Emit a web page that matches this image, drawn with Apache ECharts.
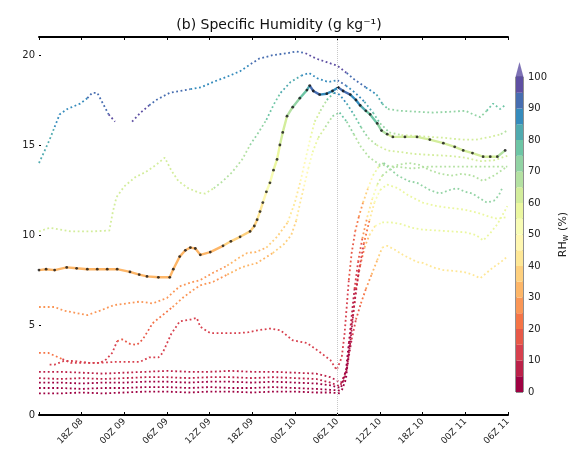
<!DOCTYPE html>
<html><head><meta charset="utf-8">
<script src="https://cdn.jsdelivr.net/npm/echarts@6/dist/echarts.min.js"></script>
<style>html,body{margin:0;padding:0;background:#fff}#c{width:578px;height:459px}</style>
</head><body><div id="c"></div>
<script>
// ---- data: each point = [hours since 12Z 08, specific humidity g/kg, RH %]
const TICK_LABELS = ['', '18Z 08', '00Z 09', '06Z 09', '12Z 09', '18Z 09', '00Z 10', '06Z 10', '12Z 10', '18Z 10', '00Z 11', '06Z 11'];
const Y_TICKS = [0, 5, 10, 15, 20];
const CB_LEVELS = [0,5,10,15,20,25,30,35,40,45,50,55,60,65,70,75,80,85,90,95,100];
const CB_LABELS = [0,10,20,30,40,50,60,70,80,90,100];
const VLINE_HOUR = 42;

const CURVE_A = [[0,14.0,82],[0.7,14.6,82],[1.5,15.3,82],[2.2,16.0,86],[2.9,16.7,86],[4.0,17.0,86],[5.8,17.3,86],[6.8,17.6,90],[7.5,17.9,90],[8.2,17.9,90],[9.0,17.3,92],[9.8,16.7,96],[10.7,16.3,96], null,
 [13.1,16.3,96],[14.3,16.8,96],[15.5,17.2,92],[16.5,17.5,92],[18.4,17.9,90],[21.3,18.1,88],[22.8,18.2,88],[24.5,18.5,88],[26.5,18.8,88],[28.3,19.1,88],[29.8,19.5,90],[31.0,19.8,90],[33.0,20.0,90],[35.0,20.1,92],[36.2,20.2,92],[37.5,20.1,96],[39.0,19.8,98],[40.5,19.6,98],[42.0,19.4,96],[43.3,19.0,92],[44.5,18.6,90],[46.0,18.2,86],[47.5,17.8,82],[48.3,17.3,78],[49.1,17.0,74],[50.8,16.9,72],[53.0,16.85,72],[55.5,16.8,72],[58.0,16.85,72],[60.0,16.9,72],[61.1,16.7,72],[62.1,16.55,72],[63.0,16.9,76],[63.9,17.3,76],[64.9,17.0,76],[65.7,17.25,76]];
const CURVE_B = [[0,10.2,62],[1.5,10.4,62],[3.0,10.3,62],[4.5,10.2,62],[7.5,10.2,62],[9.9,10.25,62],[10.4,11.3,62],[10.9,12.1,62],[12.0,12.7,62],[13.5,13.2,62],[15.0,13.5,62],[16.5,13.9,62],[17.7,14.3,62],[18.6,13.6,62],[19.6,13.0,62],[21.0,12.6,62],[22.5,12.35,62],[23.4,12.3,62],[24.6,12.6,66],[25.9,13.0,66],[27.2,13.5,66],[28.6,14.2,68],[29.7,15.0,72],[30.9,15.7,72],[32.0,16.4,76],[33.1,17.3,76],[34.0,17.9,82],[35.4,18.5,82],[36.9,18.85,86],[38.0,19.0,86],[39.2,18.7,86],[40.7,18.5,86],[42.0,18.6,90],[43.2,18.3,86],[44.5,17.9,86],[45.8,17.4,82],[47.0,16.8,76],[48.0,16.2,72],[49.3,15.7,66],[51.0,15.55,62],[53.0,15.5,62],[55.0,15.45,62],[57.0,15.4,62],[59.5,15.3,62],[61.5,15.3,62],[63.5,15.45,62],[65.0,15.6,66],[65.9,15.8,66]];
const CURVE_MAIN = [[0,8.05,32],[1.0,8.1,32],[2.2,8.05,32],[3.9,8.2,32],[5.3,8.15,32],[6.8,8.1,32],[8.2,8.1,32],[9.6,8.1,32],[11.0,8.1,32],[12.8,7.95,32],[14.1,7.8,32],[15.2,7.7,32],[16.8,7.65,32],[18.4,7.65,32],[18.9,8.1,32],[19.8,8.8,32],[20.6,9.15,32],[21.3,9.3,32],[22.0,9.25,32],[22.7,8.9,32],[24.1,9.05,32],[25.9,9.4,36],[27.0,9.65,36],[28.3,9.9,36],[29.7,10.2,38],[30.3,10.5,38],[30.7,10.85,42],[31.1,11.3,42],[31.5,11.8,46],[32.0,12.4,52],[32.5,12.9,52],[33.0,13.6,56],[33.5,14.2,56],[33.9,15.0,62],[34.3,15.7,62],[34.9,16.6,66],[35.7,17.1,72],[36.7,17.6,76],[37.7,18.05,82],[38.1,18.3,90],[38.6,18.0,90],[39.5,17.8,86],[40.5,17.85,86],[41.3,18.0,86],[42.1,18.2,90],[42.8,18.0,90],[43.8,17.8,86],[44.6,17.5,86],[45.2,17.2,82],[46.0,16.9,76],[46.6,16.7,76],[47.6,16.2,72],[48.2,15.8,66],[49.0,15.6,62],[49.8,15.45,62],[51.5,15.45,62],[53.2,15.45,62],[55.0,15.3,62],[56.9,15.1,62],[58.5,14.9,62],[59.7,14.7,62],[61.0,14.55,62],[62.5,14.35,62],[63.5,14.35,62],[64.5,14.35,66],[65.6,14.7,66]];
const CURVE_C = [[0,6.0,27],[1.2,6.0,27],[2.2,6.0,27],[3.5,5.8,27],[4.8,5.7,27],[6.8,5.55,27],[8.6,5.8,27],[10.5,6.1,27],[12.4,6.2,27],[14.2,6.3,27],[16.0,6.2,27],[18.0,6.5,27],[19.8,7.15,27],[21.3,7.35,27],[22.7,7.5,27],[24.5,7.9,27],[26.5,8.3,32],[28.0,8.7,32],[29.3,9.0,32],[30.5,9.05,32],[32.0,9.3,36],[33.5,9.9,36],[35.0,10.7,42],[36.0,11.8,42],[36.8,13.0,46],[37.5,14.2,52],[38.2,15.4,56],[38.8,16.3,62],[39.6,16.9,66],[40.5,17.5,76],[41.5,17.9,86],[42.3,17.8,86],[43.3,17.3,82],[44.3,16.7,76],[45.3,16.0,72],[46.3,15.4,66],[47.5,15.0,62],[49.0,14.7,62],[51.0,14.6,62],[53.0,14.5,62],[55.0,14.45,62],[57.5,14.4,62],[60.0,14.3,62],[62.0,14.1,62],[64.0,14.15,62],[65.9,14.4,62]];
const CURVE_D = [[0,3.45,22],[1.3,3.45,22],[3.3,3.1,12],[4.5,2.9,12],[6.5,2.9,12],[8.6,2.9,12],[9.5,3.1,12],[10.3,3.45,12],[11.0,4.1,17],[11.7,4.2,17],[12.8,3.95,17],[13.8,3.9,17],[14.6,4.2,17],[16.0,5.1,22],[17.4,5.55,22],[18.8,6.0,27],[20.2,6.5,27],[21.7,6.95,27],[22.7,7.2,27],[24.5,7.4,27],[26.5,7.8,32],[28.5,8.2,32],[30.7,8.45,32],[32.9,9.0,36],[34.5,9.5,36],[35.5,10.0,38],[36.2,10.8,42],[36.7,11.7,42],[37.3,12.7,46],[37.9,13.7,52],[38.5,14.6,56],[39.3,15.4,62],[40.3,16.0,66],[41.3,16.6,72],[42.3,16.8,76],[43.3,16.3,72],[44.3,15.6,66],[45.3,14.9,66],[46.5,14.3,66],[48.0,13.9,66],[50.0,13.8,66],[52.5,13.7,66],[55.0,13.8,66],[57.5,13.8,66],[60.0,13.8,66],[62.5,13.8,66],[64.5,13.8,66],[65.9,13.8,66]];
const CURVE_E = [[1.5,2.8,12],[2.2,2.8,12],[3.5,3.0,12],[5.0,3.0,12],[7.0,2.9,12],[8.6,2.9,12],[10.7,2.95,12],[12.5,2.95,12],[14.2,2.95,12],[15.5,3.2,12],[16.8,3.2,12],[17.4,3.45,12],[18.6,4.5,12],[19.8,5.2,12],[21.3,5.3,12],[22.2,5.4,12],[22.7,4.9,12],[24.1,4.55,12],[26.0,4.55,12],[28.0,4.55,12],[29.5,4.6,12],[30.7,4.7,12],[32.5,4.8,12],[34.0,4.7,12],[35.7,4.15,12],[37.7,4.0,12],[39.5,3.5,12],[41.0,3.05,12],[41.9,2.5,12],[42.6,3.2,12],[43.0,4.5,12],[43.3,6.0,12],[43.6,7.5,17],[44.0,9.0,17],[44.5,10.2,22],[45.0,11.0,27],[45.6,11.8,36],[46.3,12.6,46],[47.0,13.3,56],[47.8,13.8,66],[48.5,14.0,72],[49.3,13.7,72],[50.5,13.3,72],[52.0,13.0,72],[53.2,12.9,72],[55.0,12.5,72],[56.4,12.3,72],[57.8,12.5,72],[58.8,12.6,72],[60.0,12.4,72],[61.0,12.3,72],[62.2,12.0,72],[63.0,11.8,72],[64.0,11.9,72],[64.7,12.2,72],[65.3,12.7,72]];
const CURVE_F = [[0,2.4,7],[3,2.4,7],[6,2.35,7],[9,2.3,7],[12,2.35,7],[15,2.4,7],[18,2.45,7],[21,2.4,7],[24,2.4,7],[27,2.45,7],[30,2.4,7],[33,2.4,7],[36,2.35,7],[39,2.3,7],[41,2.1,7],[42.5,1.8,7],[43.3,2.5,7],[43.8,4.0,7],[44.2,5.5,12],[44.6,7.0,17],[45.2,8.3,22],[45.8,9.3,32],[46.5,10.0,42],[47.3,10.5,52],[48.3,10.7,56],[49.5,10.7,56],[51.0,10.6,56],[52.5,10.4,56],[54.0,10.3,56],[56.0,10.25,56],[58.0,10.2,56],[60.0,10.15,56],[61.5,10.0,56],[62.5,9.7,56],[63.5,10.1,56],[64.5,10.6,56],[65.5,11.3,56],[65.9,11.6,56]];
const CURVE_G = [[0,2.05,7],[3,2.0,7],[6,2.05,7],[9,2.0,7],[12,2.05,7],[15,2.1,7],[18,2.1,7],[21,2.05,7],[24,2.1,7],[27,2.1,7],[30,2.05,7],[33,2.1,7],[36,2.05,7],[39,2.0,7],[41,1.8,7],[42.3,1.6,7],[43.0,2.0,7],[43.5,3.0,7],[44.0,4.2,12],[44.6,5.3,17],[45.3,6.2,22],[46.0,7.0,27],[46.8,7.8,32],[47.6,8.6,36],[48.3,9.3,42],[49.0,9.4,42],[50.0,9.2,42],[51.2,8.9,42],[52.2,8.7,42],[53.2,8.5,42],[54.0,8.45,42],[55.5,8.2,42],[56.9,8.05,42],[58.5,8.0,42],[59.7,7.95,42],[61.0,7.8,42],[62.1,7.6,42],[63.0,7.9,42],[63.9,8.2,42],[65.0,8.5,42],[65.9,8.8,42]];
const CURVE_H = [[0,1.8,3],[3,1.8,3],[6,1.75,3],[9,1.8,3],[12,1.8,3],[15,1.85,3],[18,1.85,3],[21,1.8,3],[24,1.85,3],[27,1.85,3],[30,1.8,3],[33,1.85,3],[36,1.8,3],[39,1.75,3],[41,1.65,3],[42.5,1.5,3],[43.2,2.5,3],[43.6,4.0,7],[44.0,5.5,7],[44.4,7.0,12],[44.9,8.5,17],[45.5,9.8,27],[46.2,11.0,42],[46.9,12.0,52],[47.6,12.8,62],[48.3,13.3,66],[49.2,13.6,66],[50.5,13.9,66],[52.0,14.0,66],[53.5,13.9,66],[55.0,13.6,66],[56.5,13.4,66],[58.0,13.3,66],[59.5,13.4,66],[61.0,13.3,66],[62.5,13.0,66],[64.0,13.3,66],[65.9,13.8,66]];
const CURVE_I = [[0,1.5,3],[3,1.5,3],[6,1.45,3],[9,1.5,3],[12,1.5,3],[15,1.55,3],[18,1.55,3],[21,1.5,3],[24,1.55,3],[27,1.5,3],[30,1.5,3],[33,1.55,3],[36,1.5,3],[39,1.45,3],[41,1.4,3],[42.6,1.35,3],[43.2,2.0,3],[43.6,3.5,3],[44.0,5.0,7],[44.5,6.5,7],[45.0,8.0,12],[45.7,9.5,22],[46.5,10.8,42],[47.2,11.8,52],[48.0,12.5,56],[49.0,12.8,56],[50.5,12.6,56],[52.0,12.2,56],[54.0,11.8,56],[56.0,11.6,56],[58.0,11.5,56],[60.0,11.4,56],[62.0,11.2,56],[63.5,11.0,56],[64.5,10.9,56],[65.9,11.0,56]];
const CURVE_J = [[0,1.2,3],[3,1.2,3],[6,1.25,3],[9,1.2,3],[12,1.25,3],[15,1.3,3],[18,1.3,3],[21,1.25,3],[24,1.3,3],[27,1.3,3],[30,1.25,3],[33,1.3,3],[36,1.3,3],[39,1.25,3],[41,1.25,3],[42.5,1.2,3]];

const DOTTED_CURVES = [CURVE_A, CURVE_B, CURVE_C, CURVE_D, CURVE_E, CURVE_F, CURVE_G, CURVE_H, CURVE_I, CURVE_J];

// ---- Spectral colormap, 20 discrete bins
const SPECTRAL = ['#9e0142','#d53e4f','#f46d43','#fdae61','#fee08b','#ffffbf','#e6f598','#abdda4','#66c2a5','#3288bd','#5e4fa2'];
function hex2rgb(h){return [parseInt(h.slice(1,3),16),parseInt(h.slice(3,5),16),parseInt(h.slice(5,7),16)];}
function cmap(f){
  const p = f*(SPECTRAL.length-1); const i = Math.min(Math.floor(p), SPECTRAL.length-2); const t = p-i;
  const a = hex2rgb(SPECTRAL[i]), b = hex2rgb(SPECTRAL[i+1]);
  return 'rgb(' + a.map((v,k)=>Math.round(v+(b[k]-v)*t)).join(',') + ')';
}
const NBIN = CB_LEVELS.length-1;
function binOf(rh){ return Math.max(0, Math.min(NBIN-1, Math.floor(rh/5))); }
function binColor(b){ return cmap(b/(NBIN-1)); }

const series = [];
function addCurve(curve, style){
  let cur = null, curBin = -1;
  for (let i=0;i<curve.length-1;i++){
    const p = curve[i], q = curve[i+1];
    if (!p || !q){ cur = null; curBin = -1; continue; }
    const b = binOf(p[2]);
    if (cur && b === curBin){ cur.push(q); }
    else {
      cur = [p, q]; curBin = b;
      series.push({type:'line', data: cur, showSymbol:false, silent:true, animation:false, z: style.z,
        lineStyle:{color: binColor(b), width: style.width, type: style.type, cap:'butt'}});
    }
  }
}
DOTTED_CURVES.forEach(c => addCurve(c, {width:1.8, type:[1.8,2.6], z:2}));
addCurve(CURVE_MAIN, {width:2.4, type:'solid', z:3});
series.push({type:'scatter', data: CURVE_MAIN, symbol:'circle', symbolSize:2.8, silent:true, animation:false, z:4,
  itemStyle:{color:'#111'}});
// vertical marker line
series.push({type:'line', data:[], silent:true, animation:false,
  markLine:{symbol:'none', silent:true, label:{show:false}, lineStyle:{type:'dotted', color:'#c8c8c8', width:1},
    data:[{xAxis: VLINE_HOUR}]}});
// colorbar
for (let b=0;b<NBIN;b++){
  series.push({type:'bar', xAxisIndex:2, yAxisIndex:1, stack:'cb', barWidth:'100%', silent:true, animation:false,
    data:[CB_LEVELS[b+1]-CB_LEVELS[b]], itemStyle:{color: binColor(b)}});
}
series.push({type:'scatter', xAxisIndex:2, yAxisIndex:1, clip:false, silent:true, animation:false,
  symbol:'triangle', symbolSize:[8,15], data:[[0, CB_LEVELS[NBIN]+2.4]], itemStyle:{color: binColor(NBIN-1)}});

const chart = echarts.init(document.getElementById('c'), null, {renderer:'canvas'});
const FONT = 'DejaVu Sans';
chart.setOption({
  animation:false,
  textStyle:{fontFamily:FONT},
  title:{text:'(b) Specific Humidity (g kg⁻¹)', left:274, textAlign:'center', top:13,
    textStyle:{fontFamily:FONT, fontSize:14, fontWeight:'normal', color:'#111'}},
  grid:[
    {left:39, right:70, top:37, bottom:44, show:false},
    {left:516, width:7, top:77, height:315, show:true, borderColor:'#222', borderWidth:1}
  ],
  xAxis:[
    {type:'value', gridIndex:0, min:0, max:66, interval:6, position:'bottom',
      axisLine:{lineStyle:{color:'#000', width:2}}, axisTick:{inside:true, length:3, lineStyle:{color:'#000'}},
      splitLine:{show:false},
      axisLabel:{rotate:45, fontSize:9, color:'#222', margin:5, fontFamily:FONT,
        formatter:v => TICK_LABELS[Math.round(v/6)] || ''}},
    {type:'value', gridIndex:0, min:0, max:66, interval:6, position:'top',
      axisLine:{lineStyle:{color:'#000', width:2}}, axisTick:{inside:true, length:3, lineStyle:{color:'#000'}},
      splitLine:{show:false}, axisLabel:{show:false}},
    {type:'category', gridIndex:1, data:['cb'], show:false}
  ],
  yAxis:[
    {type:'value', gridIndex:0, min:0, max:21, interval:5, axisLine:{show:false},
      axisTick:{show:true, inside:true, length:2, lineStyle:{color:'#000'}}, splitLine:{show:false},
      axisLabel:{fontSize:10, color:'#222', margin:4, showMaxLabel:false, fontFamily:FONT}},
    {type:'value', gridIndex:1, min:0, max:100, interval:10, position:'right',
      axisLine:{show:false}, axisTick:{show:false}, splitLine:{show:false},
      axisLabel:{fontSize:10, color:'#222', margin:5, fontFamily:FONT},
      name:'{a|RH}{s|w} {a|(%)}', nameLocation:'middle', nameRotate:90, nameGap:34,
      nameTextStyle:{rich:{a:{fontSize:11, color:'#222', fontFamily:FONT}, s:{fontSize:8, color:'#222', fontFamily:FONT, padding:[5,0,0,0]}}}}
  ],
  series: series
});
</script></body></html>
